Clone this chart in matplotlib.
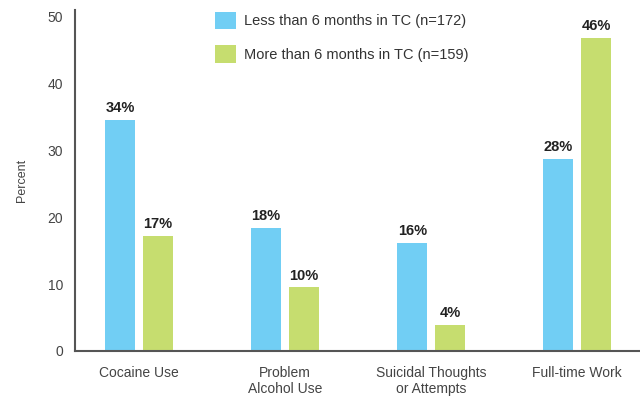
import matplotlib.pyplot as plt
import numpy as np

plt.rcParams['font.family'] = ['Liberation Sans', 'DejaVu Sans']

# data
categories = ['Cocaine Use', 'Problem\nAlcohol Use', 'Suicidal Thoughts\nor Attempts', 'Full-time Work']
less_vals = [34.6, 18.4, 16.2, 28.7]
more_vals = [17.2, 9.5, 3.9, 46.8]
less_labels = ['34%', '18%', '16%', '28%']
more_labels = ['17%', '10%', '4%', '46%']
series_names = ['Less than 6 months in TC (n=172)', 'More than 6 months in TC (n=159)']

blue = '#71CEF4'
green = '#C6DD6F'

fig = plt.figure(figsize=(6.4, 4), dpi=100)
ax = fig.add_axes([0.117, 0.1225, 0.883, 0.8525])

x = np.arange(len(categories))
w = 0.205
off = 0.13
b1 = ax.bar(x - off, less_vals, w, color=blue, label=series_names[0])
b2 = ax.bar(x + off, more_vals, w, color=green, label=series_names[1])

for bars, labs in [(b1, less_labels), (b2, more_labels)]:
    for b, t in zip(bars, labs):
        ax.annotate(t, (b.get_x() + b.get_width() / 2, b.get_height()),
                    xytext=(0, 3.5), textcoords='offset points',
                    ha='center', va='bottom', fontsize=10.5, fontweight='bold', color='#222222')

ax.set_xlim(-0.44, 3.43)
ax.set_ylim(0, 51)
ax.set_yticks(range(0, 51, 10))
ax.set_xticks(x)
ax.set_xticklabels(categories, fontsize=10, color='#444444', linespacing=1.15, va='top')
ax.tick_params(axis='both', length=0, colors='#444444', labelsize=10)
ax.tick_params(axis='x', pad=11)
ax.tick_params(axis='y', pad=8.5)
ax.set_ylabel('Percent', fontsize=9, color='#444444', labelpad=14)

for s in ['top', 'right']:
    ax.spines[s].set_visible(False)
for s in ['left', 'bottom']:
    ax.spines[s].set_color('#555555')
    ax.spines[s].set_linewidth(1.5)

ax.legend(loc='upper left', bbox_to_anchor=(215 / 640, 1 - 12 / 400),
          bbox_transform=fig.transFigure, frameon=False, fontsize=10.5,
          handlelength=1.45, handleheight=1.45, labelspacing=1.1,
          handletextpad=0.55, borderpad=0, borderaxespad=0, labelcolor='#333333')

fig.savefig('out.png', dpi=100)
